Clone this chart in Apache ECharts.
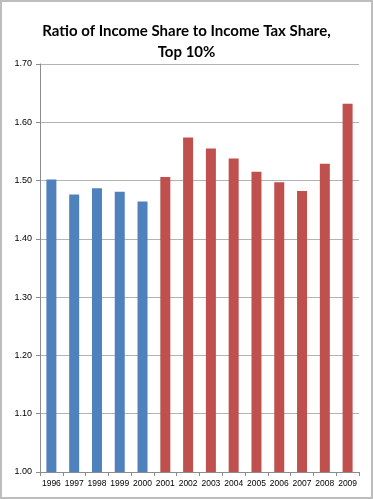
<!DOCTYPE html>
<html><head><meta charset="utf-8">
<script src="https://cdn.jsdelivr.net/npm/echarts@6/dist/echarts.min.js"></script>
<style>
html,body{margin:0;padding:0;background:#fff;}
#c{width:373px;height:499px;box-sizing:border-box;border:2px solid #bdbdbd;}
</style></head><body>
<div id="c"></div>
<script>
var titleText = "Ratio of Income Share to Income Tax Share,\nTop 10%";
var categories = ["1996","1997","1998","1999","2000","2001","2002","2003","2004","2005","2006","2007","2008","2009"];
var values = [1.502,1.476,1.487,1.481,1.464,1.506,1.574,1.555,1.538,1.515,1.497,1.482,1.529,1.632];
var groupA = ["1996","1997","1998","1999","2000"];
var yTicks = {min:1.0, max:1.7, interval:0.1};

var chart = echarts.init(document.getElementById('c'), null, {renderer:'canvas'});
chart.setOption({
  animation:false,
  title:{
    text:titleText, left:'center', top:14,
    textStyle:{fontFamily:'Lato', fontWeight:'bold', fontSize:15, color:'#000', lineHeight:21}
  },
  grid:{left:38, right:12, top:62, bottom:25, containLabel:false},
  xAxis:{
    type:'category', data:categories,
    axisLine:{lineStyle:{color:'#8c8c8c'}},
    axisTick:{show:true, length:4, interval:0, lineStyle:{color:'#8c8c8c'}},
    axisLabel:{interval:0, fontFamily:'Liberation Sans', fontSize:8.5, color:'#000', margin:7}
  },
  yAxis:{
    type:'value', min:yTicks.min, max:yTicks.max, interval:yTicks.interval,
    axisLine:{show:true, lineStyle:{color:'#8c8c8c'}},
    axisTick:{show:true, length:4, lineStyle:{color:'#8c8c8c'}},
    splitLine:{lineStyle:{color:'#b3b3b3', width:1}},
    axisLabel:{fontFamily:'Liberation Sans', fontSize:9, color:'#000', margin:8,
      formatter:function(v){return v.toFixed(2);}}
  },
  series:[{
    type:'bar', barWidth:10,
    data: values.map(function(v,i){
      return {value:v, itemStyle:{color: groupA.indexOf(categories[i])>=0 ? '#4f81bd' : '#c0504d'}};
    })
  }]
});
</script>
</body></html>
